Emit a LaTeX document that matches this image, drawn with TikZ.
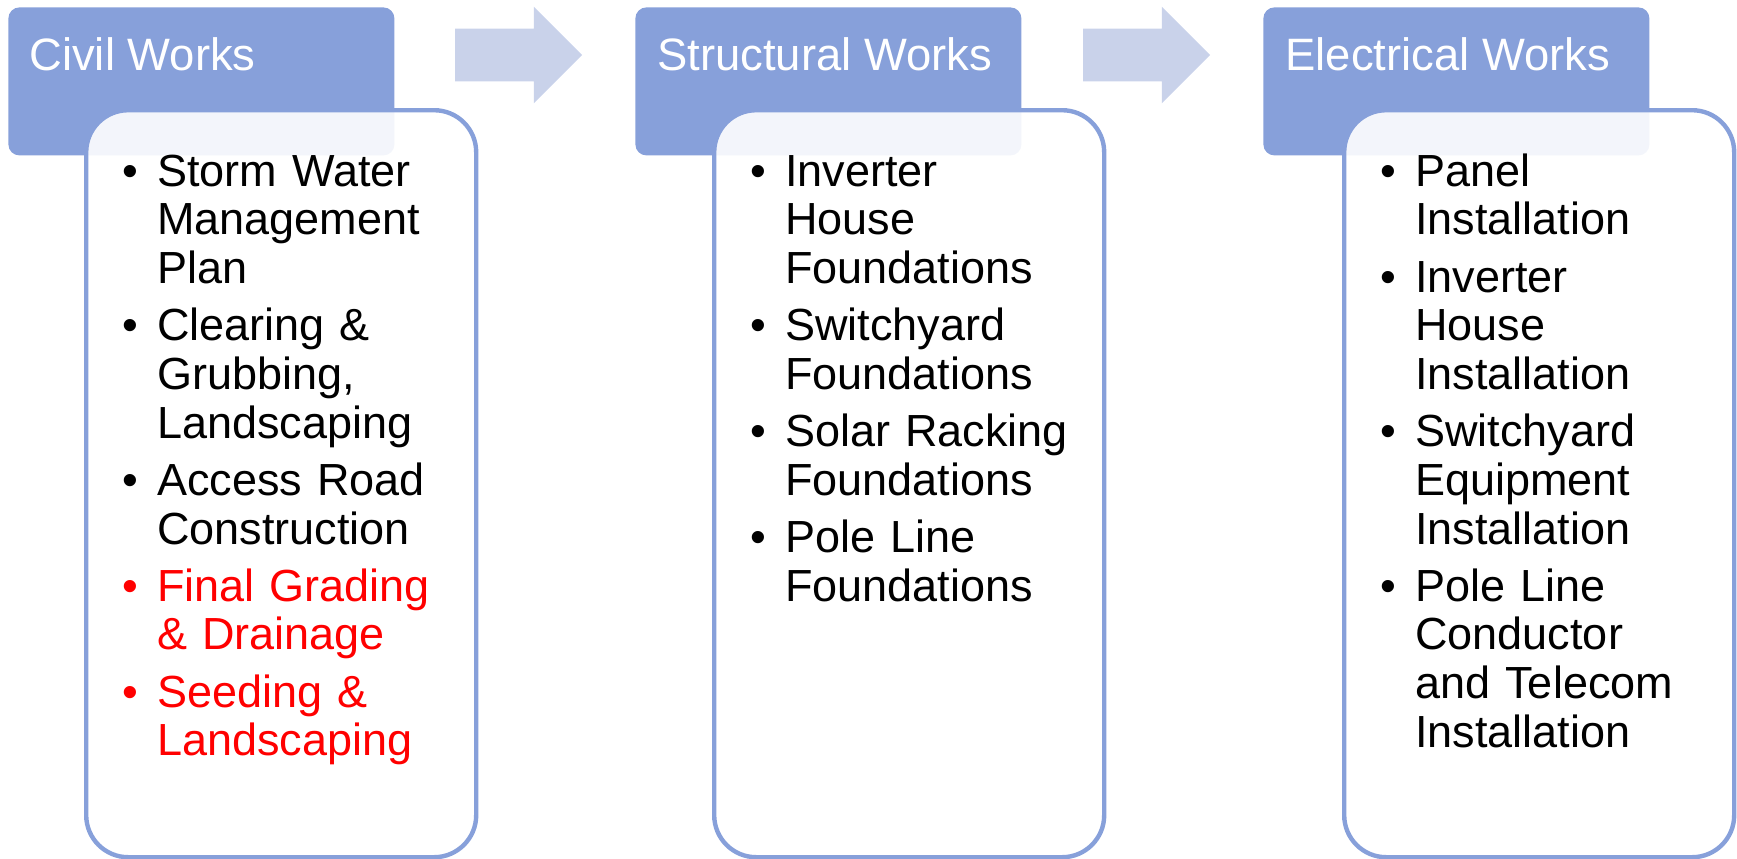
\documentclass[tikz,border=0pt]{standalone}
\usepackage{fontspec}
\setmainfont{Liberation Sans}
\usepackage{enumitem}
\usepackage{tikz}
\usetikzlibrary{shapes.arrows}
\definecolor{headblue}{HTML}{87A0DA}
\definecolor{arrowblue}{HTML}{C9D2EA}
\definecolor{listred}{HTML}{FF0000}
\pgfdeclarelayer{headlayer}
\pgfdeclarelayer{boxlayer}
\pgfsetlayers{headlayer,boxlayer,main}
\tikzstyle{none}=[inner sep=0pt]
\tikzstyle{headbox}=[rectangle, rounded corners=5.5pt, fill=headblue, minimum width=193pt, minimum height=74pt, inner sep=0pt, anchor=north west]
\tikzstyle{titletext}=[inner sep=0pt, anchor=base west, text=white, font=\fontsize{22.7pt}{24.35pt}\selectfont]
\tikzstyle{steparrow}=[single arrow, single arrow head extend=11pt, fill=arrowblue, minimum width=48pt, minimum height=63.5pt, inner xsep=0pt, inner ysep=13pt]
\tikzstyle{workbox}=[rectangle, rounded corners=21pt, draw=headblue, line width=2.2pt, fill=white, fill opacity=0.9, minimum width=195pt, minimum height=373.5pt, inner sep=0pt, anchor=north west]
\tikzstyle{listbox}=[inner sep=0pt, anchor=north west, text width=200pt, font=\fontsize{22.5pt}{24.35pt}\selectfont]
\setlist[itemize]{label=\textbullet, leftmargin=36.5pt, labelsep=9.6pt, itemsep=4.25pt, topsep=0pt, partopsep=0pt, parsep=0pt}
\newcommand{\reditem}[1]{\item[\textcolor{listred}{\textbullet}] \textcolor{listred}{#1}}

\begin{document}
\begin{tikzpicture}[x=1pt, y=1pt]
	\useasboundingbox (0, 0) rectangle (868.5, -429);
	\begin{pgfonlayer}{headlayer}
		\node [style=headbox] (0) at (4, -3.5) {};
		\node [style=headbox] (1) at (317.5, -3.5) {};
		\node [style=headbox] (2) at (631.5, -3.5) {};
		\node [style=steparrow] (3) at (252.75, -27.5) {};
		\node [style=steparrow] (4) at (566.75, -27.5) {};
		\node [style=titletext] (5) at (14.5, -35) {Civil Works};
		\node [style=titletext] (6) at (328.5, -35) {Structural Works};
		\node [style=titletext] (7) at (642.5, -35) {Electrical Works};
	\end{pgfonlayer}
	\begin{pgfonlayer}{boxlayer}
		\node [style=workbox] (8) at (42, -54) {};
		\node [style=workbox] (9) at (356, -54) {};
		\node [style=workbox] (10) at (671, -54) {};
	\end{pgfonlayer}
	\node [style=listbox] (11) at (42, -68.5) {%
		\begin{itemize}
			\item Storm Water\\Management\\Plan
			\item Clearing \&\\Grubbing,\\Landscaping
			\item Access Road\\Construction
			\reditem{Final Grading\\\& Drainage}
			\reditem{Seeding \&\\Landscaping}
		\end{itemize}};
	\node [style=listbox] (12) at (356, -68.5) {%
		\begin{itemize}
			\item Inverter\\House\\Foundations
			\item Switchyard\\Foundations
			\item Solar Racking\\Foundations
			\item Pole Line\\Foundations
		\end{itemize}};
	\node [style=listbox] (13) at (671, -68.5) {%
		\begin{itemize}
			\item Panel\\Installation
			\item Inverter\\House\\Installation
			\item Switchyard\\Equipment\\Installation
			\item Pole Line\\Conductor\\and Telecom\\Installation
		\end{itemize}};
\end{tikzpicture}
\end{document}
